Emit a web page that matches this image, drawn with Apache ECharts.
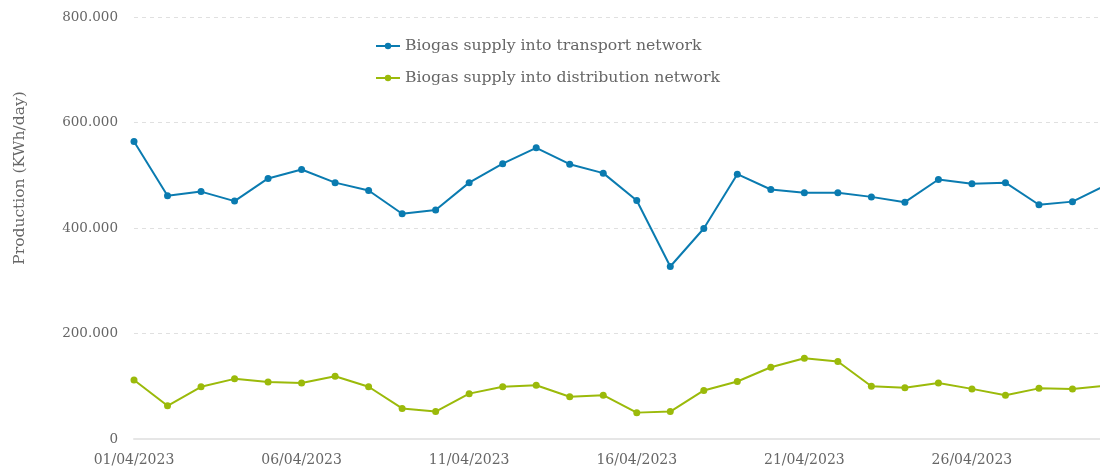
<!DOCTYPE html>
<html>
<head>
<meta charset="utf-8">
<script src="https://cdn.jsdelivr.net/npm/echarts@6/dist/echarts.min.js"></script>
<style>
    html, body { margin: 0; padding: 0; background: #fff; }
    #chart { width: 1100px; height: 470px; }
</style>
</head>
<body>
<div id="chart"></div>
<script>
// dates 01/04/2023 .. 30/04/2023
var days = [];
for (var d = 1; d <= 30; d++) {
    days.push((d < 10 ? '0' + d : '' + d) + '/04/2023');
}
var transportSupply = [564000, 461000, 469000, 451000, 494000, 511000, 486000, 471000, 427000, 434000,
    486000, 522000, 552000, 521000, 504000, 452000, 327000, 399000, 502000, 473000,
    467000, 467000, 459000, 449000, 492000, 484000, 486000, 444000, 450000, 481000];
var distributionSupply = [112000, 63000, 99000, 114000, 108000, 106000, 119000, 99000, 58000, 52000,
    86000, 99000, 102000, 80000, 83000, 50000, 52000, 92000, 109000, 136000,
    153000, 147000, 100000, 97000, 106000, 95000, 83000, 96000, 95000, 101000];
var seriesNames = ['Biogas supply into transport network', 'Biogas supply into distribution network'];

var font = 'DejaVu Serif';
var chart = echarts.init(document.getElementById('chart'));

// 800000 -> "800.000"
function fmt(v) {
    return String(v).replace(/\B(?=(\d{3})+(?!\d))/g, '.');
}

chart.setOption({
    animation: false,
    color: ['#0a7bb0', '#9bba0a'],
    textStyle: { fontFamily: font },
    grid: {
        left: 134,
        right: -6,
        top: 17,
        bottom: 31,
        outerBoundsMode: 'none'
    },
    legend: {
        orient: 'vertical',
        left: 370,
        top: 33,
        itemGap: 16,
        itemWidth: 24,
        itemHeight: 8,
        textStyle: { fontFamily: font, fontSize: 15.7, color: '#666' },
        data: seriesNames
    },
    xAxis: {
        type: 'category',
        boundaryGap: false,
        data: days,
        axisLine: { lineStyle: { color: '#e6e6e6', width: 2 } },
        axisTick: { show: false },
        axisLabel: {
            interval: 4,
            margin: 14,
            fontFamily: font,
            fontSize: 14,
            color: '#666'
        }
    },
    yAxis: {
        type: 'value',
        min: 0,
        max: 800000,
        interval: 200000,
        name: 'Production (KWh/day)',
        nameLocation: 'middle',
        nameGap: 106,
        nameTextStyle: { fontFamily: font, fontSize: 15.5, color: '#666', padding: [0, 0, 0, 100] },
        axisLine: { show: false },
        axisTick: { show: false },
        axisLabel: {
            margin: 16,
            fontFamily: font,
            fontSize: 13.5,
            color: '#666',
            formatter: function (v) { return fmt(v); }
        },
        splitLine: { lineStyle: { color: '#e0e0e0', type: [4, 4] } }
    },
    series: [
        {
            name: seriesNames[0],
            type: 'line',
            data: transportSupply,
            symbol: 'circle',
            symbolSize: 7,
            lineStyle: { width: 2 }
        },
        {
            name: seriesNames[1],
            type: 'line',
            data: distributionSupply,
            symbol: 'circle',
            symbolSize: 7,
            lineStyle: { width: 2 }
        }
    ]
});
</script>
</body>
</html>
